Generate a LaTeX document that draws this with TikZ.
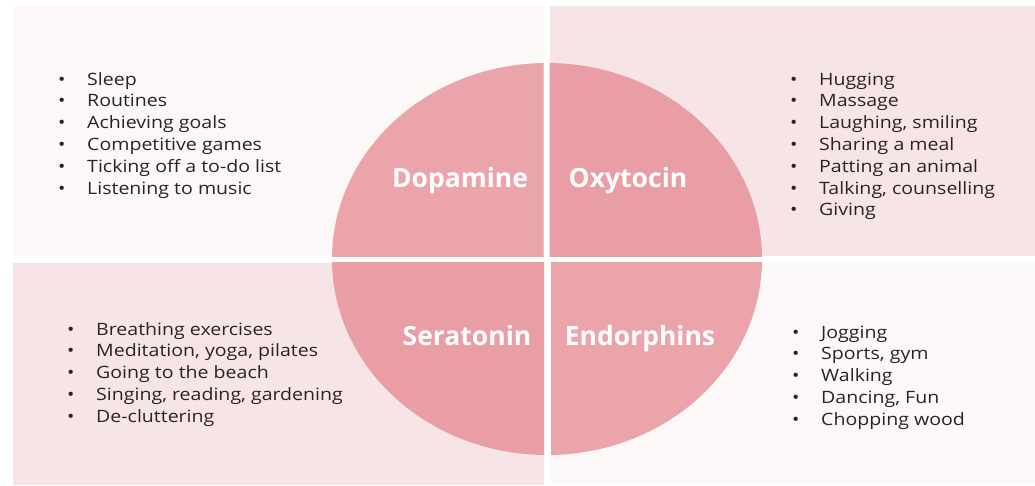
\documentclass[tikz,border=0pt]{standalone}
\usepackage{fontspec}
\setmainfont{Open Sans}
\newfontfamily\itemfont{Open Sans}[FakeStretch=1.15]
\usepackage{xcolor}
\definecolor{panelpale}{RGB}{252,248,248}
\definecolor{panelpink}{RGB}{247,228,230}
\definecolor{quartlight}{RGB}{235,165,170}
\definecolor{quartdark}{RGB}{233,157,164}
\definecolor{itemgray}{RGB}{40,36,38}
\usetikzlibrary{positioning}
\newcommand{\itm}[1]{\makebox[29pt][l]{\textbullet}#1}

\begin{document}
\begin{tikzpicture}[
      x=1pt,y=-1pt,
      item/.style={inner sep=0pt,text height=13pt,text depth=4.5pt,font=\itemfont\fontsize{17}{20}\selectfont,text=itemgray},
      next/.style={below=3.9pt of #1.south west,anchor=north west},
      hormone/.style={inner sep=0pt,anchor=base,font=\fontsize{26.5}{30}\selectfont\bfseries,text=white}]

      \useasboundingbox[fill=white] (0,0) rectangle (1035,485);

      % Four panels
      \fill[panelpale] (13,6) rectangle (543.5,256);
      \fill[panelpink] (549.5,6) rectangle (1035,256);
      \fill[panelpink] (13,262.5) rectangle (544,485);
      \fill[panelpale] (551,262.5) rectangle (1035,485);

      % Circle cut in four quarters
      \begin{scope}
        \clip (13,6) rectangle (543.5,256);
        \fill[quartlight] (547,259) ellipse [x radius=215,y radius=196];
      \end{scope}
      \begin{scope}
        \clip (549.5,6) rectangle (1035,256);
        \fill[quartdark] (547,259) ellipse [x radius=215,y radius=196];
      \end{scope}
      \begin{scope}
        \clip (13,262.5) rectangle (544,485);
        \fill[quartdark] (547,259) ellipse [x radius=215,y radius=196];
      \end{scope}
      \begin{scope}
        \clip (551,262.5) rectangle (1035,485);
        \fill[quartlight] (547,259) ellipse [x radius=215,y radius=196];
      \end{scope}

      % Hormone names
      \node[hormone] (dopa) at (460,187) {Dopamine};
      \node[hormone] (oxy) at (628,187) {Oxytocin};
      \node[hormone] (sera) at (467,345) {Seratonin};
      \node[hormone] (endo) at (640,345) {Endorphins};

      % Dopamine list
      \node[item,anchor=base west] (dopa1) at (58,85) {\itm{Sleep}};
      \node[item,next=dopa1] (dopa2) {\itm{Routines}};
      \node[item,next=dopa2] (dopa3) {\itm{Achieving goals}};
      \node[item,next=dopa3] (dopa4) {\itm{Competitive games}};
      \node[item,next=dopa4] (dopa5) {\itm{Ticking off a to-do list}};
      \node[item,next=dopa5] (dopa6) {\itm{Listening to music}};

      % Oxytocin list
      \node[item,anchor=base west] (oxy1) at (790,85) {\itm{Hugging}};
      \node[item,next=oxy1] (oxy2) {\itm{Massage}};
      \node[item,next=oxy2] (oxy3) {\itm{Laughing, smiling}};
      \node[item,next=oxy3] (oxy4) {\itm{Sharing a meal}};
      \node[item,next=oxy4] (oxy5) {\itm{Patting an animal}};
      \node[item,next=oxy5] (oxy6) {\itm{Talking, counselling}};
      \node[item,next=oxy6] (oxy7) {\itm{Giving}};

      % Seratonin list
      \node[item,anchor=base west] (sera1) at (67,335) {\itm{Breathing exercises}};
      \node[item,next=sera1] (sera2) {\itm{Meditation, yoga, pilates}};
      \node[item,next=sera2] (sera3) {\itm{Going to the beach}};
      \node[item,next=sera3] (sera4) {\itm{Singing, reading, gardening}};
      \node[item,next=sera4] (sera5) {\itm{De-cluttering}};

      % Endorphins list
      \node[item,anchor=base west] (endo1) at (792,338) {\itm{Jogging}};
      \node[item,next=endo1] (endo2) {\itm{Sports, gym}};
      \node[item,next=endo2] (endo3) {\itm{Walking}};
      \node[item,next=endo3] (endo4) {\itm{Dancing, Fun}};
      \node[item,next=endo4] (endo5) {\itm{Chopping wood}};

  \end{tikzpicture}
\end{document}
